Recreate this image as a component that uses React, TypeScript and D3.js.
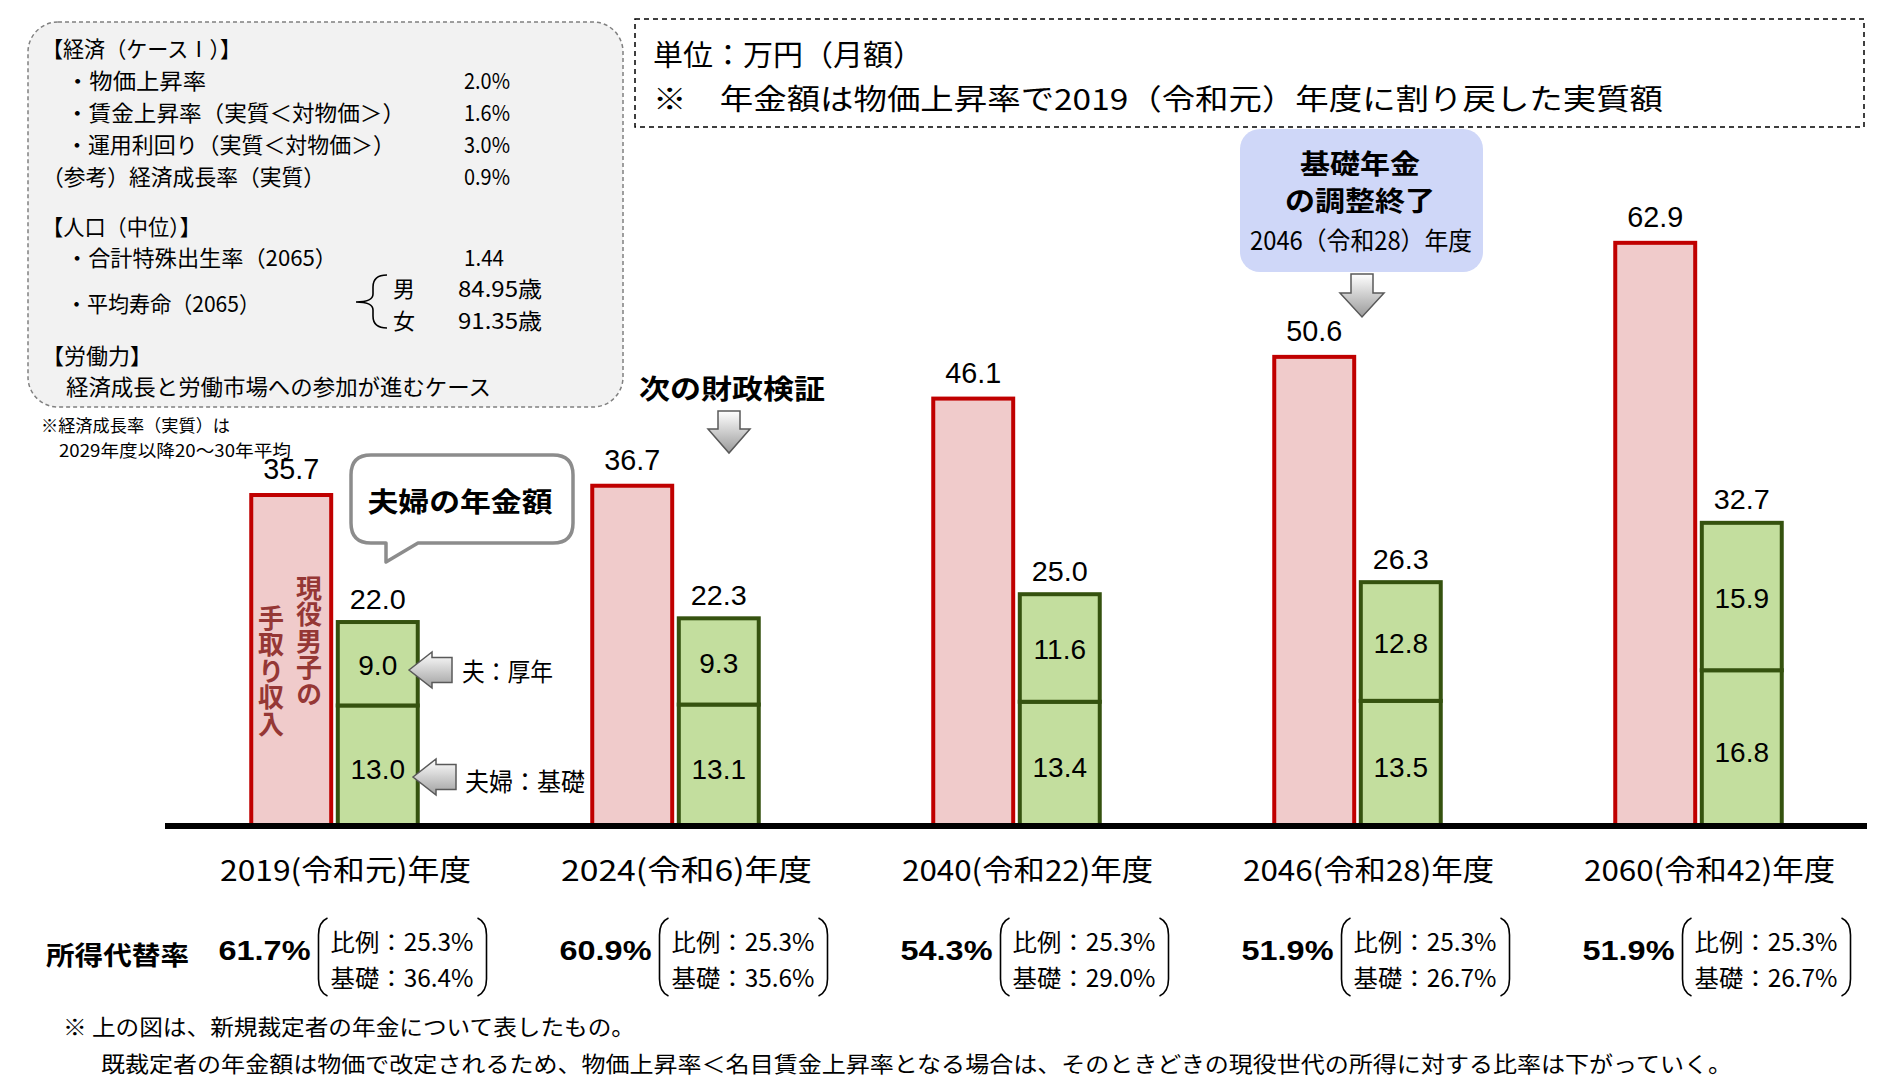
import React from "react";
import * as d3 from "d3";

// ---------------- data ----------------
const categories = [
  "2019(令和元)年度",
  "2024(令和6)年度",
  "2040(令和22)年度",
  "2046(令和28)年度",
  "2060(令和42)年度",
];
const incomeValues = [35.7, 36.7, 46.1, 50.6, 62.9]; // 現役男子の手取り収入
const koseiValues = [9.0, 9.3, 11.6, 12.8, 15.9]; // 夫:厚年
const kisoValues = [13.0, 13.1, 13.4, 13.5, 16.8]; // 夫婦:基礎
const pensionTotals = [22.0, 22.3, 25.0, 26.3, 32.7];
const replacementRates = ["61.7%", "60.9%", "54.3%", "51.9%", "51.9%"];
const hireiRates = ["25.3%", "25.3%", "25.3%", "25.3%", "25.3%"];
const kisoRates = ["36.4%", "35.6%", "29.0%", "26.7%", "26.7%"];

const econRows = [
  { label: "・物価上昇率", value: "2.0%", indent: true },
  { label: "・賃金上昇率（実質＜対物価＞）", value: "1.6%", indent: true },
  { label: "・運用利回り（実質＜対物価＞）", value: "3.0%", indent: true },
  { label: "（参考）経済成長率（実質）", value: "0.9%", indent: false },
];

const FONT = "'Noto Sans CJK JP', 'Noto Sans', sans-serif";
const NUM = "'Liberation Sans', Arial, sans-serif";

const RED_FILL = "#F0CBCB";
const RED_STROKE = "#C00000";
const GREEN_FILL = "#C3DE9E";
const GREEN_STROKE = "#35520F";

type TP = {
  x: number;
  y: number;
  w?: number;
  size?: number;
  weight?: number | string;
  anchor?: "start" | "middle" | "end";
  fill?: string;
  family?: string;
  children: React.ReactNode;
};
function T({ x, y, w, size = 22, weight = 400, anchor = "start", fill = "#000", family = FONT, children }: TP) {
  return (
    <text
      x={x}
      y={y}
      fontSize={size}
      fontWeight={weight}
      textAnchor={anchor}
      fill={fill}
      fontFamily={family}
      dominantBaseline="central"
      textLength={w}
      lengthAdjust={w ? "spacingAndGlyphs" : undefined}
    >
      {children}
    </text>
  );
}

function DownArrow({ cx, top, neck, tip, shaftW, headW }: any) {
  const d = `M${cx - shaftW / 2},${top} L${cx + shaftW / 2},${top} L${cx + shaftW / 2},${neck} L${cx + headW / 2},${neck} L${cx},${tip} L${cx - headW / 2},${neck} L${cx - shaftW / 2},${neck} Z`;
  return <path d={d} fill="url(#arrowGradV)" stroke="#595959" strokeWidth={1.5} strokeLinejoin="miter" />;
}

function LeftArrow({ tipX, cy, neck, tail, shaftH, headH }: any) {
  const d = `M${tipX},${cy} L${neck},${cy - headH / 2} L${neck},${cy - shaftH / 2} L${tail},${cy - shaftH / 2} L${tail},${cy + shaftH / 2} L${neck},${cy + shaftH / 2} L${neck},${cy + headH / 2} Z`;
  return <path d={d} fill="url(#arrowGradH)" stroke="#595959" strokeWidth={1.5} />;
}

function Paren({ x, top, bottom, dir }: any) {
  const k = dir * 9;
  const d = `M${x + k},${top} Q${x},${top + 4} ${x},${top + 17} L${x},${bottom - 17} Q${x},${bottom - 4} ${x + k},${bottom}`;
  return <path d={d} fill="none" stroke="#000" strokeWidth={1.6} />;
}

export default function App() {
  const baseY = 826;
  const y = d3.scaleLinear().domain([0, 70]).range([baseY, 177]);
  const x0 = d3.scaleBand<string>().domain(categories).range([164, 1869]).paddingInner(0.5).paddingOuter(0.25);
  const x1 = d3.scaleBand<string>().domain(["income", "pension"]).range([0, x0.bandwidth()]).paddingInner(0.03);
  const sw = 4;

  return (
    <svg
      width={1886}
      height={1086}
      style={{ position: "absolute", left: 0, top: 0, background: "#fff" }}
      xmlns="http://www.w3.org/2000/svg"
    >
      <defs>
        <linearGradient id="arrowGradV" x1="0" y1="0" x2="0" y2="1">
          <stop offset="0" stopColor="#FFFFFF" />
          <stop offset="1" stopColor="#9A9A9A" />
        </linearGradient>
        <linearGradient id="arrowGradH" x1="0" y1="0" x2="0" y2="1">
          <stop offset="0" stopColor="#FFFFFF" />
          <stop offset="1" stopColor="#A0A0A0" />
        </linearGradient>
      </defs>
      <rect x={0} y={0} width={1886} height={1086} fill="#fff" />

      {/* ---------- top-left assumption box ---------- */}
      <rect x={28} y={22} width={595} height={385} rx={30} fill="#F2F2F2" stroke="#808080" strokeWidth={1.5} strokeDasharray="4,3" />
      <T x={42} y={47} w={199}>【経済（ケースⅠ）】</T>
      {econRows.map((r, i) => {
        const ws = [140, 339, 329, 283];
        return (
          <g key={r.label}>
            <T x={r.indent ? 66 : 42} y={79 + i * 32} w={ws[i]}>{r.label}</T>
            <T x={464} y={79 + i * 32} w={46}>{r.value}</T>
          </g>
        );
      })}
      <T x={42} y={225} w={159}>【人口（中位）】</T>
      <T x={66} y={256} w={271}>・合計特殊出生率（2065）</T>
      <T x={464} y={256} w={40}>1.44</T>
      <T x={66} y={302} w={194}>・平均寿命（2065）</T>
      <path
        d="M387,275 Q373,275 373,287 L373,294 Q373,302 356,302 Q373,302 373,310 L373,316 Q373,328 387,328"
        fill="none"
        stroke="#000"
        strokeWidth={1.6}
      />
      <T x={393} y={287}>男</T>
      <T x={458} y={287} w={84}>84.95歳</T>
      <T x={393} y={319}>女</T>
      <T x={458} y={319} w={84}>91.35歳</T>
      <T x={42} y={354} w={110}>【労働力】</T>
      <T x={66} y={385} w={425}>経済成長と労働市場への参加が進むケース</T>
      <T x={41} y={424} size={17} w={189}>※経済成長率（実質）は</T>
      <T x={59} y={449} size={17} w={232}>2029年度以降20～30年平均</T>

      {/* ---------- top-right unit box ---------- */}
      <rect x={635} y={19} width={1229} height={108} fill="none" stroke="#000" strokeWidth={1.5} strokeDasharray="5,4" />
      <T x={653} y={53} size={29} w={270}>単位：万円（月額）</T>
      <T x={653} y={97} size={29} w={1010}>※　年金額は物価上昇率で2019（令和元）年度に割り戻した実質額</T>

      {/* ---------- blue annotation ---------- */}
      <rect x={1240} y={129} width={243} height={143} rx={20} fill="#CFD7F8" />
      <T x={1360} y={162} size={27} weight={700} anchor="middle" w={120}>基礎年金</T>
      <T x={1360} y={199} size={27} weight={700} anchor="middle" w={150}>の調整終了</T>
      <T x={1361} y={239} size={25} anchor="middle" w={222}>2046（令和28）年度</T>
      <DownArrow cx={1362} top={274} neck={293} tip={317} shaftW={22} headW={44} />

      <T x={732} y={387} size={27} weight={700} anchor="middle" w={186}>次の財政検証</T>
      <DownArrow cx={729} top={411} neck={429} tip={453} shaftW={22} headW={42} />

      {/* ---------- bars ---------- */}
      {categories.map((c, i) => {
        const gx = x0(c)!;
        const rx = gx + x1("income")!;
        const px = gx + x1("pension")!;
        const bw = x1.bandwidth();
        const totalTop = y(kisoValues[i] + koseiValues[i]);
        const split = y(kisoValues[i]);
        return (
          <g key={c}>
            <rect
              x={rx + sw / 2}
              y={y(incomeValues[i])}
              width={bw - sw}
              height={baseY - y(incomeValues[i])}
              fill={RED_FILL}
              stroke={RED_STROKE}
              strokeWidth={sw}
            />
            <rect x={px + sw / 2} y={split} width={bw - sw} height={baseY - split} fill={GREEN_FILL} stroke={GREEN_STROKE} strokeWidth={sw} />
            <rect x={px + sw / 2} y={totalTop} width={bw - sw} height={split - totalTop} fill={GREEN_FILL} stroke={GREEN_STROKE} strokeWidth={sw} />
            <T x={rx + bw / 2} y={y(incomeValues[i]) - 26} size={29} family={NUM} anchor="middle" w={56}>
              {incomeValues[i].toFixed(1)}
            </T>
            <T x={px + bw / 2} y={totalTop - 23} size={28} family={NUM} anchor="middle" w={56}>
              {pensionTotals[i].toFixed(1)}
            </T>
            <T x={px + bw / 2} y={(totalTop + split) / 2 + 2} size={28} family={NUM} anchor="middle">
              {koseiValues[i].toFixed(1)}
            </T>
            <T x={px + bw / 2} y={(split + baseY) / 2 + 4} size={28} family={NUM} anchor="middle">
              {kisoValues[i].toFixed(1)}
            </T>
          </g>
        );
      })}

      {/* baseline */}
      <line x1={165} x2={1867} y1={baseY} y2={baseY} stroke="#000" strokeWidth={6} />

      {/* vertical text in first red bar */}
      <text
        x={309}
        y={575}
        fontSize={26}
        fontWeight={700}
        fill="#953735"
        fontFamily={FONT}
        style={{ writingMode: "vertical-rl" as any }}
        textLength={132}
        lengthAdjust="spacing"
      >
        現役男子の
      </text>
      <text
        x={271}
        y={605}
        fontSize={26}
        fontWeight={700}
        fill="#953735"
        fontFamily={FONT}
        style={{ writingMode: "vertical-rl" as any }}
        textLength={132}
        lengthAdjust="spacing"
      >
        手取り収入
      </text>

      {/* speech bubble */}
      <path
        d="M371,455 L553,455 Q573,455 573,475 L573,523 Q573,543 553,543 L418,543 L386,562 L386,543 L371,543 Q351,543 351,523 L351,475 Q351,455 371,455 Z"
        fill="#fff"
        stroke="#8C8C8C"
        strokeWidth={3.5}
        strokeLinejoin="round"
      />
      <T x={460} y={500} size={27} weight={700} anchor="middle" w={185}>夫婦の年金額</T>

      {/* left arrows with labels */}
      <LeftArrow tipX={409} cy={670} neck={432} tail={452} shaftH={25} headH={36} />
      <T x={462} y={670} size={25} w={91}>夫：厚年</T>
      <LeftArrow tipX={413} cy={777} neck={436} tail={456} shaftH={25} headH={36} />
      <T x={465} y={780} size={25} w={120}>夫婦：基礎</T>

      {/* ---------- category labels ---------- */}
      {categories.map((c) => {
        const cx = x0(c)! + x0.bandwidth() / 2;
        return (
          <T key={"lab" + c} x={cx + 11} y={868} size={29} anchor="middle" w={251}>
            {c}
          </T>
        );
      })}

      {/* ---------- replacement rates ---------- */}
      <T x={46} y={953} size={26} weight={700} w={143}>所得代替率</T>
      {categories.map((c, i) => {
        const cx = x0(c)! + x0.bandwidth() / 2;
        return (
          <g key={"rr" + c}>
            <T x={cx - 70} y={950} size={28} weight={700} anchor="middle" w={92} family={NUM}>
              {replacementRates[i]}
            </T>
            <Paren x={cx - 16} top={918} bottom={996} dir={1} />
            <T x={cx - 4} y={940} size={24} w={143}>{`比例：${hireiRates[i]}`}</T>
            <T x={cx - 4} y={976} size={24} w={143}>{`基礎：${kisoRates[i]}`}</T>
            <Paren x={cx + 152} top={918} bottom={996} dir={-1} />
          </g>
        );
      })}

      {/* ---------- footnotes ---------- */}
      <T x={63} y={1025} size={22} w={572}>※ 上の図は、新規裁定者の年金について表したもの。</T>
      <T x={101} y={1062} size={22} w={1631}>
        既裁定者の年金額は物価で改定されるため、物価上昇率＜名目賃金上昇率となる場合は、そのときどきの現役世代の所得に対する比率は下がっていく。
      </T>
    </svg>
  );
}
